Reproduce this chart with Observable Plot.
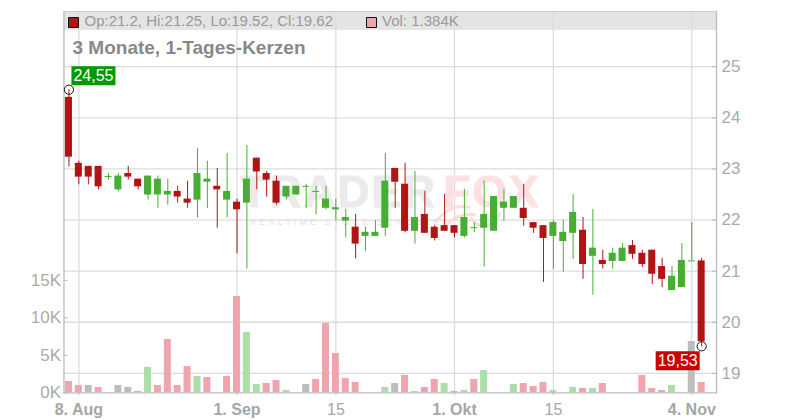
<!DOCTYPE html>
<html><head><meta charset="utf-8">
<script src="https://cdn.jsdelivr.net/npm/d3@7"></script>
<script src="https://cdn.jsdelivr.net/npm/@observablehq/plot@0.6"></script>
<style>
html,body{margin:0;padding:0;background:#fff}
#chart{position:relative;width:800px;height:420px;overflow:hidden}
#chart svg{position:absolute;left:0;top:0;background:transparent!important}
.wmsub text{letter-spacing:3.1px}
.wmbig text{letter-spacing:2.2px}
</style></head><body><div id="chart"></div>
<script>
const opens  = [24.40,23.11,23.05,23.05,22.85,22.59,22.91,22.80,22.49,22.49,22.49,22.56,22.41,22.39,22.74,22.66,22.39,22.35,22.33,23.21,22.91,22.76,22.45,22.49,22.66,22.56,22.23,22.20,21.98,21.86,21.68,21.68,21.84,23.01,22.70,21.78,22.11,21.86,21.89,21.89,21.68,21.85,21.84,21.78,22.23,22.23,22.23,21.95,21.89,21.68,21.58,21.74,21.80,21.29,21.21,21.19,21.19,21.50,21.35,21.41,21.09,20.62,20.68,21.20,21.20];
const highs  = [24.55,23.15,23.05,23.05,22.91,22.91,23.05,22.80,22.86,22.86,22.80,22.66,22.76,23.40,23.15,23.01,23.30,22.41,23.46,23.21,22.95,22.86,22.66,22.66,22.70,22.66,22.66,22.41,22.21,22.11,21.86,21.99,23.30,23.01,23.11,22.95,22.56,21.89,22.50,21.89,22.60,21.95,22.76,22.46,22.60,22.46,22.70,21.95,21.89,21.99,22.00,22.50,22.05,22.21,21.41,21.45,21.54,21.60,21.41,21.41,21.25,21.09,21.54,21.95,21.25];
const lows   = [23.04,22.69,22.69,22.59,22.78,22.55,22.78,22.59,22.39,22.23,22.29,22.33,22.23,22.04,22.23,21.84,22.04,21.34,21.04,22.59,22.45,22.29,22.39,22.49,22.23,22.10,22.20,21.98,21.65,21.24,21.39,21.68,21.68,22.23,21.75,21.53,21.74,21.59,21.78,21.65,21.65,21.75,21.08,21.78,21.98,22.23,21.88,21.74,20.78,21.03,20.98,21.23,20.84,20.53,21.04,21.04,21.19,21.23,21.07,20.74,20.68,20.62,20.68,21.20,19.52];
const closes = [23.23,22.84,22.84,22.65,22.85,22.86,22.84,22.65,22.86,22.80,22.56,22.45,22.33,22.91,22.80,22.59,22.56,22.20,22.80,22.94,22.78,22.33,22.66,22.66,22.66,22.56,22.41,22.24,22.05,21.53,21.76,21.76,22.76,22.74,21.78,22.05,21.74,21.64,21.78,21.74,22.05,21.85,22.11,22.46,22.35,22.46,22.03,21.84,21.64,21.95,21.76,22.15,21.13,21.45,21.13,21.35,21.45,21.33,21.13,20.94,20.84,20.90,21.21,21.20,19.62];
const volumes = [1.51,0.98,0.98,0.71,0,0.98,0.71,0.18,3.38,0.98,7.11,0.98,3.51,2.18,2.04,0,2.18,12.84,8.04,1.11,1.24,1.64,0.31,0,1.11,1.78,9.24,5.24,1.91,1.38,0,0,0.71,1.24,2.31,0.18,0.71,1.78,1.24,0.18,0.31,1.78,2.98,0,0,1.11,1.24,0.84,1.38,0.31,0,0.71,0.58,0.58,1.24,0,0,0,2.31,0.58,0.31,0.98,0,6.84,1.384];
// p = down day (pink), g = up day (green), n = unchanged (grey)
const volumeMoves = ["p","p","n","p","n","n","n","p","g","p","p","p","p","g","p","n","p","p","g","g","p","p","g","n","n","p","p","p","p","p","n","n","g","n","p","g","p","p","g","p","g","p","g","n","n","g","p","p","p","g","n","g","p","g","p","n","n","n","p","p","p","g","n","n","p"];
const priceTicks = [19,20,21,22,23,24,25];
const volumeTicks = [0,5,10,15];
const majorTicks = [{i:1,label:"8. Aug"},{i:17,label:"1. Sep"},{i:39,label:"1. Okt"},{i:63,label:"4. Nov"}];
const minorTicks = [{i:27,label:"15"},{i:49,label:"15"}];
const extremes = [{i:0,price:24.55,label:"24,55",color:"#009900"},{i:64,price:19.53,label:"19,53",color:"#cc0000"}];
const legendLine = "Op:21.2, Hi:21.25, Lo:19.52, Cl:19.62";
const volumeLine = "Vol: 1.384K";
const titleLine = "3 Monate, 1-Tages-Kerzen";

const RED="#b21414", GREEN="#46ae32";
const volColor={p:"#efa5ad",g:"#aadfa8",n:"#bdbdbd"};
const candles = opens.map((o,i)=>({i,o,h:highs[i],l:lows[i],c:closes[i],v:volumes[i],m:volumeMoves[i],up:closes[i]>=o,doji:o===closes[i]}));
const slots = d3.range(66);
const base = {width:800,height:420,marginTop:11,marginBottom:27.7,marginLeft:63.5,marginRight:84,
  x:{type:"band",domain:slots,paddingInner:0.29,paddingOuter:0.145,round:false,axis:null},
  color:{type:"identity"},
  style:{background:"transparent",fontFamily:"'Liberation Sans',Arial,sans-serif"}};
const priceY = {type:"linear",domain:[18.62,26.08],axis:null};
const volY = {type:"linear",domain:[0,50.84],axis:null};
const box=(w,h)=>({draw(ctx){ctx.rect(-w/2,-h/2,w,h);ctx.closePath();}});
const swoosh={draw(ctx){ctx.moveTo(-35,0);ctx.quadraticCurveTo(-20,-20,0,-15);ctx.moveTo(-25,3);ctx.quadraticCurveTo(-12,-10,5,-8);ctx.moveTo(0,-5);ctx.quadraticCurveTo(15,15,30,-10);}};
const chart=document.getElementById("chart");

// grid layer
chart.append(Plot.plot({...base,y:priceY,marks:[
  Plot.rect([{a:25.71,b:26.08}],{y1:"a",y2:"b",fill:"#e4e4e4"}),
  Plot.ruleY(priceTicks,{stroke:"#dcdcdc",strokeWidth:1.3}),
  Plot.ruleX([...majorTicks,...minorTicks],{x:"i",stroke:"#dcdcdc",strokeWidth:1.3}),
  Plot.text(["TRADER"],{frameAnchor:"top-left",lineAnchor:"middle",dx:176.5,dy:181,textAnchor:"start",fontSize:44,fontWeight:"bold",fill:"#ebebeb",stroke:"#ebebeb",strokeWidth:1,className:"wmbig"}),
  Plot.text(["FOX"],{frameAnchor:"top-left",lineAnchor:"middle",dx:379.5,dy:181,textAnchor:"start",fontSize:44,fontWeight:"bold",fill:"#fde0e2",stroke:"#fde0e2",strokeWidth:1,className:"wmbig"}),
  Plot.text(["REALTIME STOCK SCREENER"],{frameAnchor:"top-left",lineAnchor:"middle",dx:186,dy:210.5,textAnchor:"start",fontSize:9,fill:"#e2e2e2",className:"wmsub"}),
  Plot.dot([0],{frameAnchor:"top-left",dx:406.5,dy:211,symbol:swoosh,r:5,fill:"none",stroke:"#fcdcdc",strokeWidth:3})
]}));

// volume layer
chart.append(Plot.plot({...base,y:volY,marks:[
  Plot.barY(candles.filter(d=>d.v>0),{x:"i",y:"v",fill:d=>volColor[d.m]}),
  Plot.tickY(volumeTicks,{insetRight:648.5,stroke:"#b5b5b5"}),
  Plot.axisY({anchor:"left",ticks:volumeTicks,tickFormat:d=>d+"K",tickSize:0,tickPadding:3,fontSize:17,color:"#aaa",label:null})
]}));

// price layer
chart.append(Plot.plot({...base,y:priceY,marks:[
  Plot.frame({anchor:"left",stroke:"#bbb",strokeWidth:1.3}),
  Plot.frame({anchor:"right",stroke:"#bbb",strokeWidth:1.3}),
  Plot.frame({anchor:"bottom",stroke:"#bbb",strokeWidth:1.3}),
  Plot.frame({anchor:"top",stroke:"#ccc",strokeWidth:1}),
  Plot.tickY(priceTicks,{insetLeft:648.5,stroke:"#b5b5b5"}),
  Plot.tickX([...majorTicks,...minorTicks],{x:"i",insetTop:381,insetBottom:-2.5,stroke:"#b5b5b5"}),
  Plot.axisY({anchor:"right",ticks:priceTicks,tickSize:0,tickPadding:5,fontSize:17,color:"#aaa",label:null}),
  Plot.text(majorTicks,{x:"i",text:"label",frameAnchor:"bottom",dy:22,fontSize:16,fontWeight:"bold",fill:"#a6a6a6"}),
  Plot.text(minorTicks,{x:"i",text:"label",frameAnchor:"bottom",dy:22,fontSize:16,fill:"#a6a6a6"}),
  Plot.ruleX(candles,{x:"i",y1:"l",y2:"h",stroke:d=>d.up?GREEN:RED,strokeWidth:1}),
  Plot.barY(candles.filter(d=>!d.doji),{x:"i",y1:"o",y2:"c",fill:d=>d.up?GREEN:RED}),
  Plot.tickY(candles.filter(d=>d.doji),{x:"i",y:"c",stroke:GREEN,strokeWidth:1}),
  Plot.dot(extremes,{x:"i",y:"price",r:4.6,stroke:"#111",strokeWidth:1,fill:"none"}),
  Plot.dot([extremes[0]],{x:"i",y:"price",symbol:box(44,19),r:5,fill:"color",dx:24.5,dy:-14}),
  Plot.text([extremes[0]],{x:"i",y:"price",text:"label",fill:"#fff",fontSize:16,dx:24.5,dy:-14}),
  Plot.dot([extremes[1]],{x:"i",y:"price",symbol:box(44,19),r:5,fill:"color",dx:-24,dy:14.5}),
  Plot.text([extremes[1]],{x:"i",y:"price",text:"label",fill:"#fff",fontSize:16,dx:-24,dy:14.5}),
  Plot.dot([0],{frameAnchor:"top-left",dx:9.5,dy:11,symbol:box(10,10),r:5,fill:RED,stroke:"#111",strokeWidth:1}),
  Plot.text([legendLine],{frameAnchor:"top-left",dx:20.5,dy:4,textAnchor:"start",fontSize:15,fill:"#999"}),
  Plot.dot([0],{frameAnchor:"top-left",dx:307.5,dy:11,symbol:box(10,10),r:5,fill:volColor.p,stroke:"#111",strokeWidth:1}),
  Plot.text([volumeLine],{frameAnchor:"top-left",dx:318,dy:4,textAnchor:"start",fontSize:15,fill:"#999"}),
  Plot.text([titleLine],{frameAnchor:"top-left",dx:8.5,dy:28.5,textAnchor:"start",fontSize:19,fontWeight:"bold",fill:"#888"})
]}));
</script></body></html>
